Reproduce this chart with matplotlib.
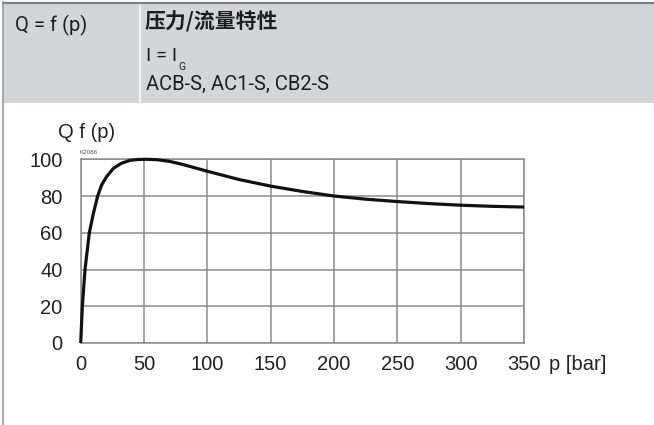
import matplotlib
matplotlib.use("Agg")
import matplotlib.pyplot as plt
from matplotlib import font_manager as fm
from matplotlib.patches import Rectangle
from matplotlib.lines import Line2D

# ---- data ----
pressure = [0, 1.3, 3.4, 6.8, 10, 13.4, 16.5, 20.4, 25.7, 32, 38.8, 45, 52, 60, 70, 80, 90, 100,
            125, 150, 175, 200, 225, 250, 275, 300, 325, 350]
flow = [0, 20, 40, 60, 70.5, 80, 86, 90.5, 95, 97.8, 99.4, 99.9, 100, 99.8, 98.9, 97.3, 95.4, 93.5,
        89, 85.4, 82.5, 80, 78.3, 77, 75.9, 75, 74.4, 74]
x_ticks = [0, 50, 100, 150, 200, 250, 300, 350]
y_ticks = [0, 20, 40, 60, 80, 100]
header_left = "Q = f (p)"
header_title = "压力/流量特性"
header_models = "ACB-S, AC1-S, CB2-S"
y_label = "Q f (p)"
x_unit = "p [bar]"
code_label = "K2086"


def have(name):
    try:
        fm.findfont(fm.FontProperties(family=name), fallback_to_default=False)
        return True
    except Exception:
        return False


narrow = "Liberation Sans Narrow" if have("Liberation Sans Narrow") else "Roboto"
sans = "Liberation Sans"

W, H = 654, 425
fig = plt.figure(figsize=(W / 100, H / 100), dpi=100)
fig.patch.set_facecolor("white")


def fx(px):
    return px / W


def fy(py):
    return 1 - py / H


# header band
fig.patches.append(Rectangle((fx(3), fy(103)), fx(651), 100 / H, transform=fig.transFigure,
                             facecolor="#d3d6d9", edgecolor="none", zorder=0))
# divider
fig.add_artist(Line2D([fx(139.5), fx(139.5)], [fy(3), fy(103)], color="#f2f2f2", lw=1.5))
# borders
fig.add_artist(Line2D([fx(3), fx(654)], [fy(2.5), fy(2.5)], color="#7d7d7d", lw=1.6))
fig.add_artist(Line2D([fx(3), fx(3)], [fy(2), fy(425)], color="#9a9a9a", lw=1.2))

# header texts
fig.text(fx(15), fy(25), header_left, family=narrow, fontsize=14.5, color="#1e1e1e", va="center", ha="left")
fig.text(fx(145), fy(22), header_title, family=["Noto Sans CJK SC", "DejaVu Sans"], fontsize=15,
         weight="bold", color="#1e1e1e", va="center", ha="left")
fig.text(fx(146), fy(56), "I = I", family=narrow, fontsize=14, color="#1e1e1e", va="center", ha="left")
fig.text(fx(178), fy(67), "G", family=narrow, fontsize=7.5, color="#1e1e1e", va="center", ha="left")
fig.text(fx(146), fy(84), header_models, family=narrow, fontsize=14.5, color="#1e1e1e", va="center", ha="left")

# axes
left, right, top, bottom = 80.7, 524, 159.3, 343
ax = fig.add_axes([fx(left), fy(bottom), fx(right - left), (bottom - top) / H])
ax.plot(pressure, flow, color="#111111", lw=2.3, solid_capstyle="butt", solid_joinstyle="round",
        zorder=3, clip_on=False)
ax.set_xlim(0, 350)
ax.set_ylim(0, 100)
ax.set_xticks(x_ticks)
ax.set_yticks(y_ticks)
ax.grid(True, color="#8c8c8c", lw=1.1)
for s in ax.spines.values():
    s.set_color("#8c8c8c")
    s.set_linewidth(1.1)
ax.tick_params(length=0, labelsize=14.5, labelcolor="#222222")
ax.tick_params(axis="y", pad=13)
ax.tick_params(axis="x", pad=9)
for lab in ax.get_xticklabels() + ax.get_yticklabels():
    lab.set_family(sans)

fig.text(fx(58), fy(132), y_label, family=sans, fontsize=14.5, color="#222222", va="center", ha="left")
fig.text(fx(549), fy(365), x_unit, family=sans, fontsize=14.5, color="#222222", va="center", ha="left")
fig.text(fx(80), fy(152), code_label, family=sans, fontsize=4.5, color="#555555", va="center", ha="left")

fig.savefig("out.png", dpi=100)
